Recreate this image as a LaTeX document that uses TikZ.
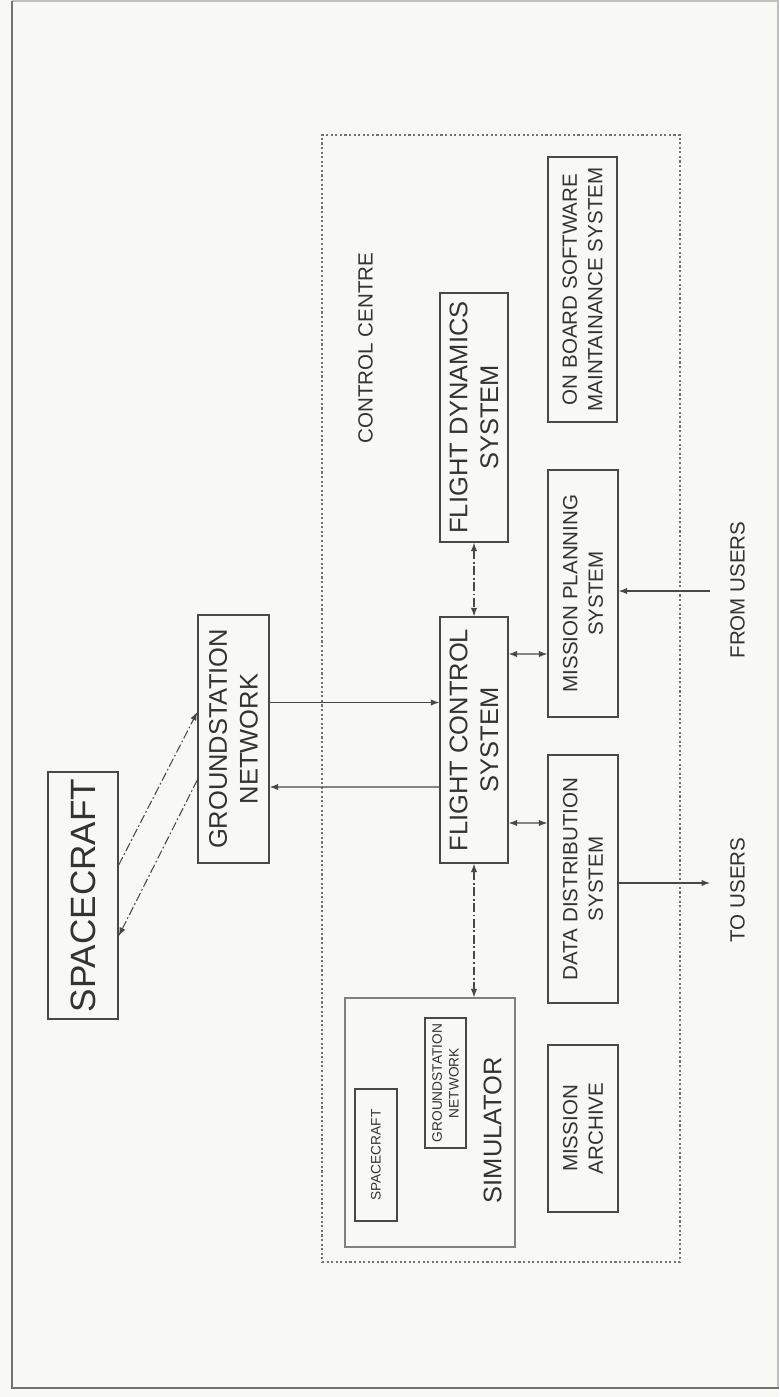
\documentclass[tikz,border=0pt]{standalone}
\usepackage{fontspec}
\setmainfont{Liberation Sans}
\usetikzlibrary{arrows.meta, positioning, calc}
\definecolor{paper}{RGB}{248,248,244}
\definecolor{ink}{RGB}{72,72,72}

\begin{document}
\begin{tikzpicture}[
    >={Latex[length=4.8pt,width=3.6pt]},
    box/.style={rectangle, draw=ink, line width=0.8pt, rotate=90, align=center,
                inner sep=2pt, text=black!80, font=\fontsize{11.7}{14.5}\selectfont},
    bigbox/.style={box, font=\fontsize{14.5}{17.5}\selectfont},
    smallbox/.style={box, line width=0.6pt, font=\fontsize{7.8}{9.5}\selectfont},
    tag/.style={rotate=90, text=black!80, font=\fontsize{11.7}{14}\selectfont},
    arrow/.style={->, line width=0.6pt, ink},
    darrow/.style={<->, line width=0.6pt, ink},
    dashdot/.style={line width=0.6pt, ink, dash pattern=on 5pt off 1.5pt on 1pt off 1.5pt},
]

% === page ===
\useasboundingbox (0,0) rectangle (15.58,-27.94);
\fill[paper] (0,0) rectangle (15.58,-27.94);
\draw[black!25, line width=0.6pt] (0.24,-0.02) -- (15.56,-0.02) -- (15.56,-27.76);
\draw[black!55, line width=1pt] (0.24,-0.02) -- (0.24,-27.76) -- (15.58,-27.76);

% === control centre ===
\node[draw=black!55, line width=1pt, dash pattern=on 1.2pt off 1.4pt,
      minimum width=7.16cm, minimum height=22.54cm, inner sep=0pt] (cc) at (10.02,-13.97) {};
\node[tag] (cc-title) at (7.31,-6.96) {CONTROL CENTRE};

% === outside ===
\node[box, font=\fontsize{20}{24}\selectfont, minimum width=4.94cm, minimum height=1.40cm]
    (sc) at (1.66,-17.91) {SPACECRAFT};
\node[bigbox, minimum width=4.96cm, minimum height=1.42cm]
    (gs) at (4.67,-14.78) {GROUNDSTATION\\NETWORK};

% === inside control centre ===
\node[bigbox, minimum width=4.92cm, minimum height=1.36cm]
    (fcs) at (9.48,-14.80) {FLIGHT CONTROL\\SYSTEM};
\node[bigbox, minimum width=4.98cm, minimum height=1.36cm]
    (fds) at (9.48,-8.35) {FLIGHT DYNAMICS\\SYSTEM};
\node[box, minimum width=4.94cm, minimum height=1.40cm]
    (mps) at (11.66,-11.87) {MISSION PLANNING\\SYSTEM};
\node[box, minimum width=4.96cm, minimum height=1.40cm]
    (dds) at (11.66,-17.58) {DATA DISTRIBUTION\\SYSTEM};
\node[box, minimum width=5.30cm, minimum height=1.38cm]
    (obs) at (11.65,-5.79) {ON BOARD SOFTWARE\\MAINTAINANCE SYSTEM};
\node[box, minimum width=3.34cm, minimum height=1.40cm]
    (arch) at (11.66,-22.57) {MISSION\\ARCHIVE};

% simulator with its two models
\node[box, draw=black!50, minimum width=4.98cm, minimum height=3.40cm]
    (sim) at (8.60,-22.45) {};
\node[rotate=90, text=black!80, font=\fontsize{14.5}{17}\selectfont]
    (sim-title) at (9.85,-22.60) {SIMULATOR};
\node[smallbox, minimum width=2.64cm, minimum height=0.84cm]
    (sim-sc) at (7.52,-23.10) {SPACECRAFT};
\node[smallbox, minimum width=2.60cm, minimum height=0.82cm]
    (sim-gs) at (8.91,-21.66) {GROUNDSTATION\\NETWORK};

% === links ===
\draw[dashdot, ->] ([yshift=0.61cm]sc.south) -- ([yshift=0.54cm]gs.north);
\draw[dashdot, ->] ([yshift=-0.82cm]gs.north) -- ([yshift=-0.81cm]sc.south);

\draw[arrow] ([yshift=0.73cm]gs.south) -- ([yshift=0.75cm]fcs.north);
\draw[arrow] ([yshift=-0.94cm]fcs.north) -- ([yshift=-0.96cm]gs.south);

\draw[dashdot, <->] (fds.west) -- (fcs.east);
\draw[dashdot, <->] (fcs.west) -- (fcs.west |- sim.east);

\draw[darrow] ([yshift=1.72cm]fcs.south) -- ([yshift=-1.21cm]mps.north);
\draw[darrow] ([yshift=-1.66cm]fcs.south) -- ([yshift=1.12cm]dds.north);

% users
\coordinate (from-usr) at (14.20,-11.82);
\coordinate (to-usr) at (14.20,-17.66);
\draw[arrow] (from-usr) -- (mps.south |- from-usr);
\draw[arrow] (dds.south |- to-usr) -- (to-usr);
\node[tag] (from-lbl) at (14.75,-11.80) {FROM USERS};
\node[tag] (to-lbl) at (14.75,-17.80) {TO USERS};

\end{tikzpicture}
\end{document}
